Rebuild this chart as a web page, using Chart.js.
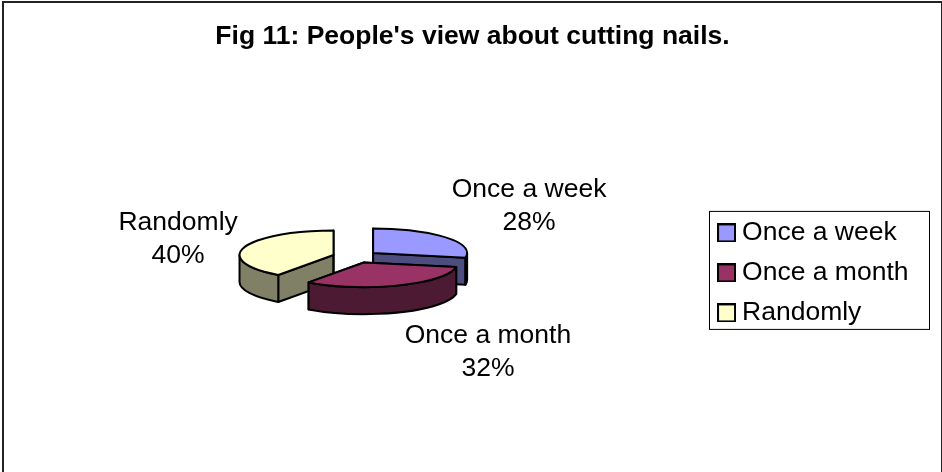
<!DOCTYPE html>
<html>
<head>
<meta charset="utf-8">
<style>
  html, body { margin: 0; padding: 0; background: #fff; }
  #wrap { position: relative; width: 942px; height: 472px; }
  canvas { display: block; }
</style>
<script src="https://cdn.jsdelivr.net/npm/chart.js@4"></script>
</head>
<body>
<div id="wrap"><canvas id="chart" width="942" height="472"></canvas></div>
<script>
const titleText = "Fig 11: People's view about cutting nails.";
const categories = ["Once a week", "Once a month", "Randomly"];
const shares = [28, 32, 40];
const topColors = ["#9999FF", "#993366", "#FFFFCC"];
const wallColors = ["#4D4D80", "#4D1A33", "#808066"];

// Projection of the flat pie into an exploded, tilted disc.
const pieRadius = 94;
const tilt = 0.262;
const explode = 23;
const wallDepth = 27;
const pieLift = -13;
const paintOrder = [0, 2, 1];
const labelOffsets = [[83.5, -31], [89.5, 67], [-66, -8.5]];
const fontFamily = "'Liberation Sans', Arial, sans-serif";
const fontSize = 26.5;
const titleCentre = 472.5;
const legendDrop = 3;

function swatch(color) {
  const c = document.createElement("canvas");
  c.width = 19; c.height = 19;
  const g = c.getContext("2d");
  g.fillStyle = "#000";
  g.fillRect(0, 0, 19, 19);
  g.fillStyle = color;
  g.fillRect(2, 2, 15, 15);
  return c;
}

const pie3d = {
  id: "pie3d",
  afterLayout(chart) {
    // Centre the legend on the plot area rather than the space below the title
    const legend = chart.legend;
    const mid = (chart.chartArea.top + chart.chartArea.bottom) / 2;
    const h = legend.bottom - legend.top;
    legend.top = mid - h / 2 + legendDrop;
    legend.bottom = mid + h / 2 + legendDrop;
    // The title sits on the page's centre, not on the padded layout's
    const title = chart.titleBlock;
    const shift = titleCentre - (title.left + title.right) / 2;
    title.left += shift;
    title.right += shift;
  },
  beforeDatasetDraw(chart) {
    const ctx = chart.ctx;
    const arcs = chart.getDatasetMeta(0).data;
    ctx.save();
    ctx.lineWidth = 2;
    ctx.lineJoin = "round";
    ctx.strokeStyle = "#000";
    paintOrder.forEach(i => {
      const arc = arcs[i];
      const R = arc.outerRadius;
      const mid = (arc.startAngle + arc.endAngle) / 2;
      const cx = arc.x + Math.cos(mid) * explode;
      const cy = arc.y + pieLift + Math.sin(mid) * explode * tilt;
      const px = a => cx + Math.cos(a) * R;
      const py = a => cy + Math.sin(a) * R * tilt;

      // Cut faces running from the centre out to each edge of the slice
      ctx.fillStyle = wallColors[i];
      [arc.startAngle, arc.endAngle].forEach(a => {
        ctx.beginPath();
        ctx.moveTo(cx, cy);
        ctx.lineTo(px(a), py(a));
        ctx.lineTo(px(a), py(a) + wallDepth);
        ctx.lineTo(cx, cy + wallDepth);
        ctx.closePath();
        ctx.fill();
        ctx.stroke();
      });

      // Outer rim, only where the circle faces the viewer
      const from = Math.max(arc.startAngle, 0);
      const to = Math.min(arc.endAngle, Math.PI);
      if (to > from) {
        ctx.beginPath();
        ctx.ellipse(cx, cy, R, R * tilt, 0, from, to);
        ctx.lineTo(px(to), py(to) + wallDepth);
        ctx.ellipse(cx, cy + wallDepth, R, R * tilt, 0, to, from, true);
        ctx.closePath();
        ctx.fill();
        ctx.stroke();
      }

      // Top surface: the library's arc, squashed by the tilt
      ctx.save();
      ctx.translate(cx, cy);
      ctx.scale(1, tilt);
      ctx.translate(-arc.x, -arc.y);
      arc.draw(ctx);
      ctx.restore();
      ctx.beginPath();
      ctx.moveTo(cx, cy);
      ctx.ellipse(cx, cy, R, R * tilt, 0, arc.startAngle, arc.endAngle);
      ctx.closePath();
      ctx.stroke();
    });

    // Category and percentage beside each slice
    ctx.fillStyle = "#000";
    ctx.font = fontSize + "px " + fontFamily;
    ctx.textAlign = "center";
    ctx.textBaseline = "middle";
    categories.forEach((name, i) => {
      const arc = arcs[i];
      const mid = (arc.startAngle + arc.endAngle) / 2;
      const reach = arc.outerRadius + explode;
      const x = arc.x + Math.cos(mid) * reach + labelOffsets[i][0];
      const y = arc.y + pieLift + Math.sin(mid) * reach * tilt + labelOffsets[i][1];
      ctx.fillText(name, x, y - 16.5);
      ctx.fillText(shares[i] + "%", x, y + 16.5);
    });
    ctx.restore();
    return false;
  },
  afterDraw(chart) {
    const ctx = chart.ctx;
    const legend = chart.legend;
    const mid = (legend.top + legend.bottom) / 2 - legendDrop;
    ctx.save();
    ctx.strokeStyle = "#000";
    ctx.lineWidth = 1;
    ctx.strokeRect(Math.floor(legend.left - 1) + 0.5, mid - 58.5, 220, 118);
    // Chart frame: top, left and right edges
    ctx.fillStyle = "#222";
    ctx.fillRect(2, 1, chart.width - 2, 2);
    ctx.fillRect(2, 1, 2, chart.height - 1);
    ctx.fillRect(chart.width - 1, 1, 1, chart.height - 1);
    ctx.restore();
  }
};

new Chart(document.getElementById("chart"), {
  type: "pie",
  data: {
    labels: categories,
    datasets: [{
      data: shares,
      backgroundColor: topColors,
      borderWidth: 0,
      radius: pieRadius
    }]
  },
  plugins: [pie3d],
  options: {
    responsive: false,
    animation: false,
    events: [],
    layout: { padding: { left: 0, right: 23.5, top: 0, bottom: 4 } },
    plugins: {
      tooltip: { enabled: false },
      title: {
        display: true,
        text: titleText,
        color: "#000",
        font: { family: fontFamily, size: fontSize, weight: "bold" },
        padding: { top: 21, bottom: 19 }
      },
      legend: {
        position: "right",
        labels: {
          color: "#000",
          font: { family: fontFamily, size: fontSize },
          padding: 13.5,
          usePointStyle: true,
          pointStyleWidth: 4.5,
          boxHeight: 24,
          generateLabels() {
            return categories.map((text, index) => ({
              text,
              index,
              fillStyle: topColors[index],
              strokeStyle: "#000",
              lineWidth: 2,
              fontColor: "#000",
              hidden: false,
              pointStyle: swatch(topColors[index])
            }));
          }
        }
      }
    }
  }
});
</script>
</body>
</html>
